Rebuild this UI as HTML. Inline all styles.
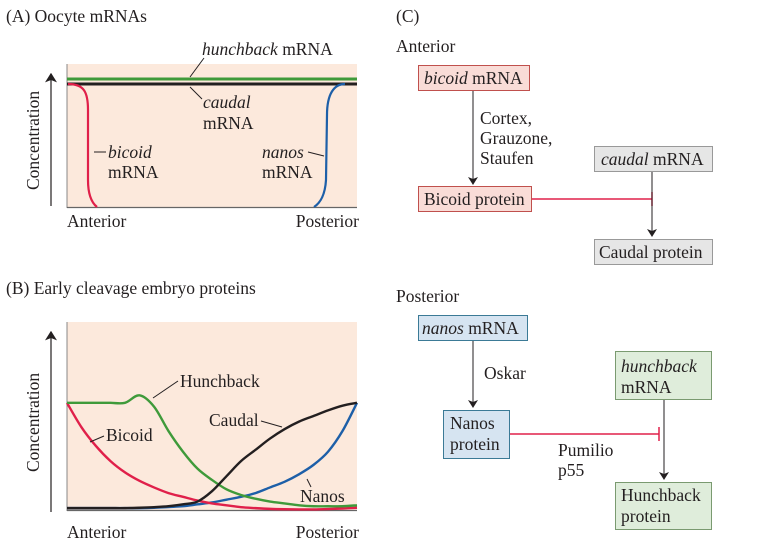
<!DOCTYPE html>
<html><head><meta charset="utf-8"><style>
body{margin:0;background:#fff}
svg{display:block;font-family:"Liberation Serif",serif;font-size:17.5px;fill:#231f20}
</style></head><body>
<svg id="fig" width="759" height="558" viewBox="0 0 759 558">
<defs><marker id="ah" markerWidth="8" markerHeight="10" refX="7" refY="5" orient="auto"><path d="M0,0 L8,5 L0,10 L2,5z" fill="#231f20"/></marker></defs>
<!-- Panel A -->
<text x="6" y="22">(A)  Oocyte mRNAs</text>
<rect x="67" y="64" width="290" height="143" fill="#fce9dc"/>
<line x1="67" y1="64" x2="67" y2="208" stroke="#888" stroke-width="1"/>
<line x1="67" y1="207.5" x2="357" y2="207.5" stroke="#666" stroke-width="1.2"/>
<line x1="51" y1="206" x2="51" y2="74" stroke="#231f20" stroke-width="1.2" marker-end="url(#ah)"/>
<text transform="translate(39,190) rotate(-90)">Concentration</text>
<line x1="67" y1="79" x2="357" y2="79" stroke="#3f9a3a" stroke-width="3"/>
<line x1="67" y1="84" x2="357" y2="84" stroke="#231f20" stroke-width="3"/>
<path d="M68,84 C84,84 88,92 88,110 L88,180 C88,196 92,203 97,207" fill="none" stroke="#e0204a" stroke-width="2.2"/>
<path d="M314,207 C320,203 325,196 326,180 L327,115 C327,94 334,84 345,84" fill="none" stroke="#1d5fa8" stroke-width="2.2"/>
<text x="202" y="55"><tspan font-style="italic">hunchback</tspan> mRNA</text>
<line x1="204" y1="58" x2="190" y2="77" stroke="#231f20"/>
<text x="203" y="108" font-style="italic">caudal</text>
<text x="203" y="129">mRNA</text>
<line x1="190" y1="87" x2="202" y2="99" stroke="#231f20"/>
<text x="108" y="158" font-style="italic">bicoid</text>
<text x="108" y="178">mRNA</text>
<line x1="94" y1="152" x2="106" y2="152" stroke="#231f20"/>
<text x="262" y="158" font-style="italic">nanos</text>
<text x="262" y="178">mRNA</text>
<line x1="308" y1="152" x2="324" y2="156" stroke="#231f20"/>
<text x="67" y="227">Anterior</text>
<text x="359" y="227" text-anchor="end">Posterior</text>
<!-- Panel B -->
<text x="6" y="294">(B)  Early cleavage embryo proteins</text>
<rect x="67" y="322" width="290" height="188" fill="#fce9dc"/>
<line x1="67" y1="322" x2="67" y2="511" stroke="#888"/>
<line x1="67" y1="510.5" x2="357" y2="510.5" stroke="#666" stroke-width="1.2"/>
<line x1="51" y1="512" x2="51" y2="332" stroke="#231f20" stroke-width="1.2" marker-end="url(#ah)"/>
<text transform="translate(39,472) rotate(-90)">Concentration</text>
<g id="series"></g>
<text x="180" y="387">Hunchback</text>
<line x1="178" y1="381" x2="153" y2="398" stroke="#231f20"/>
<text x="106" y="441">Bicoid</text>
<line x1="104" y1="436" x2="90" y2="442" stroke="#231f20"/>
<text x="209" y="426">Caudal</text>
<line x1="261" y1="421" x2="282" y2="427" stroke="#231f20"/>
<text x="300" y="502">Nanos</text>
<line x1="307" y1="479" x2="311" y2="487" stroke="#231f20"/>
<text x="67" y="538">Anterior</text>
<text x="359" y="538" text-anchor="end">Posterior</text>
<!-- Panel C -->
<text x="396" y="22">(C)</text>
<text x="396" y="52">Anterior</text>
<rect x="418.5" y="65.5" width="111" height="25" fill="#f9dcd7" stroke="#c0504d"/>
<text x="424" y="84"><tspan font-style="italic">bicoid</tspan> mRNA</text>
<line x1="473" y1="91" x2="473" y2="184" stroke="#231f20" marker-end="url(#ah)"/>
<text x="480" y="124">Cortex,</text>
<text x="480" y="144">Grauzone,</text>
<text x="480" y="164">Staufen</text>
<rect x="418.5" y="186.5" width="113" height="25" fill="#f9dcd7" stroke="#c0504d"/>
<text x="424" y="205">Bicoid protein</text>
<line x1="532" y1="199" x2="652" y2="199" stroke="#e0204a" stroke-width="1.5"/>
<line x1="652" y1="192" x2="652" y2="206" stroke="#e0204a" stroke-width="1.5"/>
<rect x="594.5" y="146.5" width="118" height="25" fill="#e6e6e6" stroke="#999"/>
<text x="601" y="165"><tspan font-style="italic">caudal</tspan> mRNA</text>
<line x1="652" y1="172" x2="652" y2="236" stroke="#231f20" marker-end="url(#ah)"/>
<rect x="594.5" y="239.5" width="118" height="25" fill="#e6e6e6" stroke="#999"/>
<text x="599" y="258">Caudal protein</text>
<text x="396" y="302">Posterior</text>
<rect x="418.5" y="315.5" width="109" height="25" fill="#d6e4f1" stroke="#3b7a96"/>
<text x="422" y="334"><tspan font-style="italic">nanos</tspan> mRNA</text>
<line x1="473" y1="341" x2="473" y2="407" stroke="#231f20" marker-end="url(#ah)"/>
<text x="484" y="379">Oskar</text>
<rect x="443.5" y="410.5" width="66" height="48" fill="#d6e4f1" stroke="#3b7a96"/>
<text x="450" y="429">Nanos</text><text x="450" y="450">protein</text>
<line x1="510" y1="434" x2="659" y2="434" stroke="#e0204a" stroke-width="1.5"/>
<line x1="659" y1="427" x2="659" y2="441" stroke="#e0204a" stroke-width="1.5"/>
<text x="558" y="456">Pumilio</text>
<text x="558" y="476">p55</text>
<rect x="615.5" y="351.5" width="96" height="48" fill="#dfeddb" stroke="#7a9a70"/>
<text x="621" y="372" font-style="italic">hunchback</text><text x="621" y="393">mRNA</text>
<line x1="664" y1="400" x2="664" y2="479" stroke="#231f20" marker-end="url(#ah)"/>
<rect x="615.5" y="482.5" width="96" height="47" fill="#dfeddb" stroke="#7a9a70"/>
<text x="621" y="501">Hunchback</text><text x="621" y="522">protein</text>
</svg>
<script>
const positions = [0,0.05,0.1,0.15,0.2,0.25,0.3,0.35,0.4,0.45,0.5,0.55,0.6,0.65,0.7,0.75,0.8,0.85,0.9,0.95,1];
const hunchback = [0.57,0.57,0.57,0.57,0.57,0.61,0.55,0.42,0.31,0.22,0.16,0.11,0.08,0.06,0.045,0.035,0.025,0.02,0.02,0.02,0.025];
const bicoid = [0.57,0.44,0.34,0.26,0.2,0.155,0.12,0.09,0.07,0.05,0.035,0.025,0.015,0.01,0.006,0.004,0.003,0.003,0.005,0.008,0.012];
const caudal = [0.01,0.01,0.01,0.01,0.01,0.012,0.015,0.02,0.03,0.045,0.1,0.18,0.26,0.32,0.38,0.43,0.47,0.5,0.53,0.555,0.57];
const nanos = [0.01,0.01,0.01,0.01,0.01,0.01,0.012,0.016,0.02,0.03,0.04,0.055,0.07,0.09,0.12,0.15,0.19,0.24,0.31,0.42,0.57];
const xs = v => 67 + v*290;
const ys = v => 510 - v*188;
const g = document.getElementById('series');
function draw(vals, color, name){
  const pts = positions.map((p,i)=>[xs(p), ys(vals[i])]);
  let d = 'M'+pts[0][0]+','+pts[0][1];
  for(let i=1;i<pts.length;i++){
    const p0=pts[Math.max(0,i-2)],p1=pts[i-1],p2=pts[i],p3=pts[Math.min(pts.length-1,i+1)];
    const c1x=p1[0]+(p2[0]-p0[0])/6,c1y=p1[1]+(p2[1]-p0[1])/6,c2x=p2[0]-(p3[0]-p1[0])/6,c2y=p2[1]-(p3[1]-p1[1])/6;
    d+=` C${c1x},${c1y} ${c2x},${c2y} ${p2[0]},${p2[1]}`;
  }
  const el=document.createElementNS('http://www.w3.org/2000/svg','path');
  el.setAttribute('d',d);el.setAttribute('fill','none');el.setAttribute('stroke',color);el.setAttribute('stroke-width','2.4');
  
  
  g.appendChild(el);
}
draw(nanos,'#1d5fa8','nanos-protein-line');
draw(bicoid,'#e0204a','bicoid-protein-line');
draw(hunchback,'#3f9a3a','hunchback-protein-line');
draw(caudal,'#231f20','caudal-protein-line');
</script>
</body></html>
